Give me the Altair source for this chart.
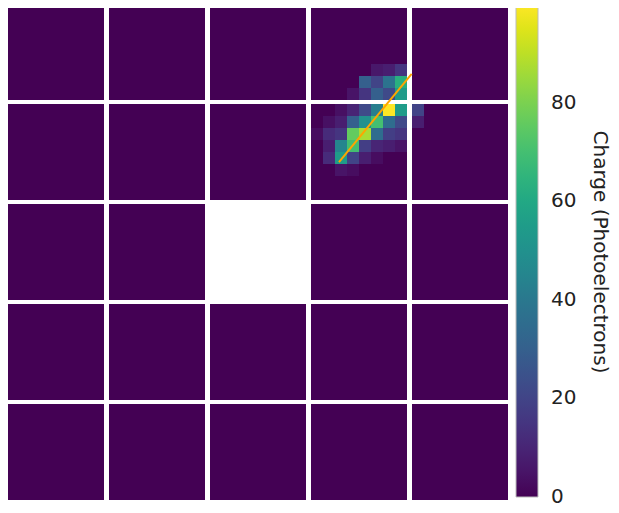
import altair as alt
import pandas as pd

# ---- camera layout: 5x5 modules of 8x8 pixels, centre module missing ----
N_MOD = 5
N_PIX = 8
GAP_X = 5 / 12   # gap between modules, in pixel units
GAP_Y = 4 / 12
OVERLAP = 0.06   # tiny overlap between neighbouring pixels to hide seams
MISSING = [(2, 2)]

# ---- charge (photoelectrons) in the modules that were hit ----
# module (row 0, col 3)
M_0_3 = [
    [0, 0, 0, 0, 0, 0, 0, 0],
    [0, 0, 0, 0, 0, 0, 0, 0],
    [0, 0, 0, 0, 0, 0, 0, 0],
    [0, 0, 0, 0, 0, 0, 0, 0],
    [0, 0, 0, 0, 0, 0, 0, 0],
    [0, 0, 0, 0, 0, 6, 8, 15],
    [0, 0, 0, 0, 30, 20, 38, 63],
    [0, 0, 0, 5, 15, 30, 22, 55],
]
# module (row 1, col 3)
M_1_3 = [
    [0, 0, 4, 10, 22, 42, 99.8, 55],
    [0, 4, 8, 30, 50, 70, 35, 22],
    [3, 12, 15, 76, 87, 35, 18, 15],
    [0, 8, 45, 70, 18, 10, 8, 5],
    [0, 12, 55, 20, 8, 3, 0, 0],
    [0, 0, 5, 3, 0, 0, 0, 0],
    [0, 0, 0, 0, 0, 0, 0, 0],
    [0, 0, 0, 0, 0, 0, 0, 0],
]
# module (row 1, col 4)
M_1_4 = [
    [20, 0, 0, 0, 0, 0, 0, 0],
    [8, 0, 0, 0, 0, 0, 0, 0],
    [0, 0, 0, 0, 0, 0, 0, 0],
    [0, 0, 0, 0, 0, 0, 0, 0],
    [0, 0, 0, 0, 0, 0, 0, 0],
    [0, 0, 0, 0, 0, 0, 0, 0],
    [0, 0, 0, 0, 0, 0, 0, 0],
    [0, 0, 0, 0, 0, 0, 0, 0],
]
HIT_MODULES = {(0, 3): M_0_3, (1, 3): M_1_3, (1, 4): M_1_4}

# fitted track (pixel-unit coordinates)
TRACK_X = [27.58, 33.64]
TRACK_Y = [13.17, 5.83]

CHARGE_MAX = 99.8
LEGEND_TICKS = [0, 20, 40, 60, 80]
CBAR_TITLE = "Charge (Photoelectrons)"

rows = []
for mr in range(N_MOD):
    for mc in range(N_MOD):
        if (mr, mc) in MISSING:
            continue
        grid = HIT_MODULES.get((mr, mc))
        for r in range(N_PIX):
            for c in range(N_PIX):
                q = grid[r][c] if grid else 0
                x0 = mc * (N_PIX + GAP_X) + c
                y0 = mr * (N_PIX + GAP_Y) + r
                rows.append({
                    "x": x0,
                    "x2": x0 + 1 + (OVERLAP if c < N_PIX - 1 else 0),
                    "y": y0,
                    "y2": y0 + 1 + (OVERLAP if r < N_PIX - 1 else 0),
                    "charge": q,
                })
df = pd.DataFrame(rows)
track = pd.DataFrame({"x": TRACK_X, "y": TRACK_Y})

XMAX = N_MOD * N_PIX + (N_MOD - 1) * GAP_X
YMAX = N_MOD * N_PIX + (N_MOD - 1) * GAP_Y

xs = alt.Scale(domain=[0, XMAX], nice=False, zero=False)
ys = alt.Scale(domain=[0, YMAX], nice=False, zero=False, reverse=True)
cs = alt.Scale(scheme="viridis", domain=[0, CHARGE_MAX], nice=False, zero=False)

# nudge the end tick a hair inside the bar so its label stays centred on the tick
legend_values = [max(v, 0.02) for v in LEGEND_TICKS]

heat = alt.Chart(df).mark_rect().encode(
    x=alt.X("x:Q", scale=xs, axis=None),
    x2="x2:Q",
    y=alt.Y("y:Q", scale=ys, axis=None),
    y2="y2:Q",
    color=alt.Color(
        "charge:Q",
        scale=cs,
        legend=alt.Legend(
            title=None,
            type="gradient",
            values=legend_values,
            labelExpr="format(datum.value, '.0f')",
            orient="none",
            legendX=508,
            legendY=1,
            direction="vertical",
            gradientLength=492,
            gradientThickness=22,
            gradientStrokeColor="#bbbbbb",
            gradientStrokeWidth=1,
            labelFontSize=20,
            labelFont="DejaVu Sans",
            labelColor="#222222",
            labelOffset=13,
            labelOverlap=False,
            padding=0,
        ),
    ),
)

line = alt.Chart(track).mark_line(color="orange", strokeWidth=2).encode(
    x=alt.X("x:Q", scale=xs, axis=None),
    y=alt.Y("y:Q", scale=ys, axis=None),
)

title = alt.Chart(pd.DataFrame({"t": [CBAR_TITLE]})).mark_text(
    angle=90, fontSize=20, font="DejaVu Sans", color="#222222",
    align="center", baseline="middle",
).encode(text="t:N", x=alt.value(592), y=alt.value(248))

chart = (
    alt.layer(heat, line, title)
    .properties(
        width=500,
        height=496,
        autosize=alt.AutoSizeParams(type="none"),
        padding={"left": 0, "top": -4, "right": 103, "bottom": 3},
    )
    .configure_view(stroke=None)
)

chart.save("out.html", embed_options={"renderer": "svg", "actions": False})
